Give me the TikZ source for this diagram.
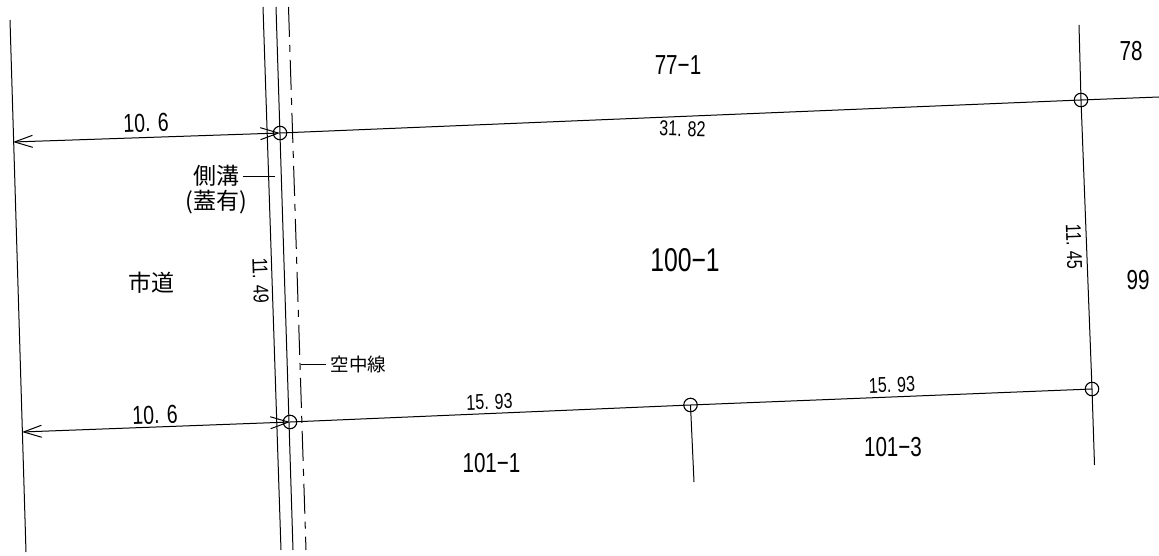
\documentclass[tikz,border=0pt]{standalone}
\usepackage{fontspec}
\setmainfont{Liberation Sans}
\newfontfamily\dig[FakeStretch=0.75]{Liberation Sans}
\newfontfamily\cjk{Noto Sans CJK JP}
\usetikzlibrary{arrows.meta}
\tikzset{
  ln/.style={line width=1pt,black},
  dashdot/.style={line width=1pt,black,dash pattern=on 30pt off 8pt on 7pt off 8pt},
  mark pt/.style={circle,draw,line width=1.1pt,minimum size=13.5pt,inner sep=0pt},
  dimline/.style={line width=1pt,black,{Straight Barb[length=18pt,width=12pt]}-{Straight Barb[length=18pt,width=12pt]}},
  big/.style={font=\dig\fontsize{33}{33}\selectfont,inner sep=0pt},
  mid/.style={font=\dig\fontsize{27.5}{27.5}\selectfont,inner sep=0pt},
  dimtxt/.style={font=\dig\fontsize{26}{26}\selectfont,inner sep=0pt},
  small/.style={font=\dig\fontsize{21.5}{21.5}\selectfont,inner sep=0pt},
  kan/.style={font=\cjk\fontsize{23}{25}\selectfont,inner sep=0pt,align=center},
  kans/.style={font=\cjk\fontsize{18.5}{18.5}\selectfont,inner sep=0pt},
}
\begin{document}
\begin{tikzpicture}[x=1pt,y=-1pt]
\useasboundingbox (0,0) rectangle (1159,556);
% free ends
\coordinate (edgeTopL) at (10,20);
\coordinate (edgeBotL) at (26,552);
\coordinate (r1t) at (263,7);
\coordinate (r1b) at (281,550);
\coordinate (r2t) at (276,7);
\coordinate (r2b) at (293,550);
\coordinate (r3t) at (288.5,7);
\coordinate (r3b) at (306,550);
\coordinate (dimA) at (13,142);
\coordinate (dimB) at (22,432);
\coordinate (eastEnd) at (1159,97);
\coordinate (northEnd) at (1079,25);
\coordinate (southEnd) at (1094.5,465);
\coordinate (stubEnd) at (694,482);
\coordinate (leadA) at (243,177);
\coordinate (leadB) at (275,177);
\coordinate (leadC) at (301,364);
\coordinate (leadD) at (326,364);
% survey marks
\node[mark pt] (p1) at (280,133) {};
\node[mark pt] (p2) at (1081,100) {};
\node[mark pt] (p3) at (290,422) {};
\node[mark pt] (p4) at (690.5,405) {};
\node[mark pt] (p5) at (1092,389) {};
% lines
\draw[ln] (edgeTopL) -- (edgeBotL);
\draw[ln] (r1t) -- (r1b);
\draw[ln] (r2t) -- (r2b);
\draw[dashdot] (r3t) -- (r3b);
\draw[ln] (p1.center) -- (p2.center) -- (eastEnd);
\draw[ln] (p3.center) -- (p4.center) -- (p5.center);
\draw[ln] (northEnd) -- (p2.center) -- (p5.center) -- (southEnd);
\draw[ln] (p4.center) -- (stubEnd);
\draw[dimline] (dimA) -- (p1.center);
\draw[dimline] (dimB) -- (p3.center);
\draw[ln] (leadA) -- (leadB);
\draw[ln] (leadC) -- (leadD);
% labels
\node[mid] (t771) at (678,65) {77−1};
\node[mid] (t78) at (1131,51) {78};
\node[mid] (t99) at (1138,280) {99};
\node[big] (t100) at (685,260) {100−1};
\node[mid] (t1011) at (491.5,463) {101−1};
\node[mid] (t1013) at (893,447) {101−3};
\node[dimtxt,rotate=2] (d1) at (146,123) {10. 6};
\node[dimtxt,rotate=2] (d2) at (155,415) {10. 6};
\node[small,rotate=-2] (l1) at (682.5,129) {31. 82};
\node[small,rotate=2] (l2) at (489.5,402) {15. 93};
\node[small,rotate=2] (l3) at (892,385) {15. 93};
\node[small,rotate=-88] (l4) at (260.5,280.5) {11. 49};
\node[small,rotate=-88] (l5) at (1074,247) {11. 45};
\node[kan] (road) at (151,283) {市道};
\node[kan] (ditch) at (216,190) {側溝\\(蓋有)};
\node[kans] (wire) at (358.5,364) {空中線};
\end{tikzpicture}
\end{document}
